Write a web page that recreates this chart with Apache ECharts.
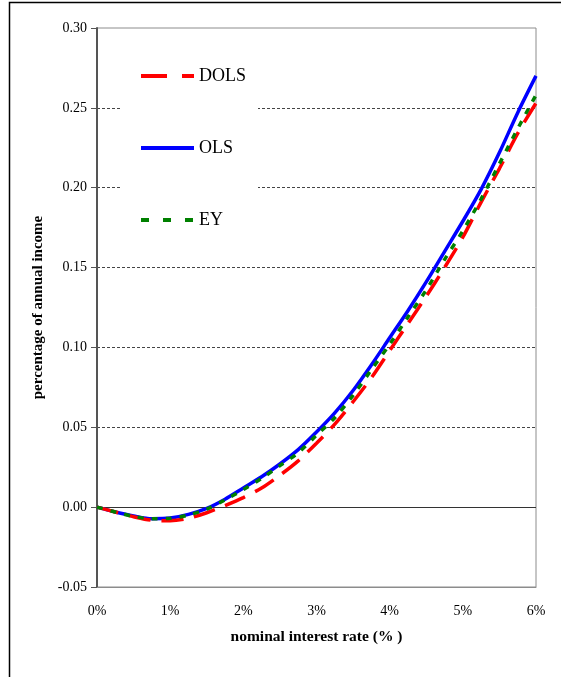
<!DOCTYPE html>
<html>
<head>
<meta charset="utf-8">
<script src="https://cdn.jsdelivr.net/npm/echarts@6/dist/echarts.min.js"></script>
<style>
html,body{margin:0;padding:0;background:#fff;}
#chart{width:561px;height:677px;}
</style>
</head>
<body>
<div id="chart"></div>
<script>
// nominal interest rate (%)
const rates = [0, 0.25, 0.5, 0.75, 1.0, 1.25, 1.5, 1.75, 2.0, 2.25, 2.5, 2.75, 3.0, 3.25, 3.5, 3.75, 4.0, 4.25, 4.5, 4.75, 5.0, 5.25, 5.5, 5.75, 6.0];
const dols = [0, -0.003, -0.006, -0.0082, -0.0085, -0.007, -0.0035, 0.001, 0.006, 0.012, 0.020, 0.029, 0.040, 0.052, 0.066, 0.081, 0.098, 0.115, 0.132, 0.150, 0.169, 0.191, 0.212, 0.234, 0.253];
const ols  = [0, -0.003, -0.0055, -0.0072, -0.0068, -0.0045, -0.0008, 0.005, 0.012, 0.019, 0.027, 0.036, 0.047, 0.059, 0.073, 0.089, 0.106, 0.123, 0.141, 0.160, 0.179, 0.199, 0.222, 0.247, 0.270];
const ey   = [0, -0.003, -0.0058, -0.0073, -0.007, -0.005, -0.0012, 0.0045, 0.011, 0.018, 0.026, 0.034, 0.045, 0.056, 0.070, 0.086, 0.102, 0.119, 0.136, 0.155, 0.173, 0.193, 0.215, 0.237, 0.258];
const seriesNames = ['DOLS', 'OLS', 'EY'];
const yTicks = { min: -0.05, max: 0.30, interval: 0.05 };
const xTicks = { min: 0, max: 6, interval: 1 };

const pairs = arr => rates.map((r, i) => [r, arr[i]]);
const font = 'Liberation Serif, Times New Roman, serif';
const hiddenSymbol = { opacity: 0, color: 'transparent', borderWidth: 0 };

const chart = echarts.init(document.getElementById('chart'), null, { renderer: 'canvas' });
chart.setOption({
  animation: false,
  backgroundColor: '#fff',
  textStyle: { fontFamily: font },
  graphic: [{
    type: 'polyline',
    shape: { points: [[9.5, 677], [9.5, 2.5], [561, 2.5]] },
    style: { stroke: '#000', lineWidth: 1.5, fill: null },
    silent: true
  }],
  grid: {
    left: 97, top: 28, right: 25, bottom: 90,
    show: true, borderColor: '#8c8c8c', borderWidth: 1, backgroundColor: 'transparent'
  },
  legend: {
    orient: 'vertical',
    left: 122, top: 50,
    padding: [17, 12, 18, 17],
    backgroundColor: '#fff',
    itemWidth: 53, itemHeight: 14, itemGap: 54,
    textStyle: { fontFamily: font, fontSize: 18, color: '#000', lineHeight: 18 },
    itemStyle: hiddenSymbol,
    data: [
      { name: 'DOLS', itemStyle: hiddenSymbol, lineStyle: { type: [26, 15], width: 4, color: '#ff0000' } },
      { name: 'OLS', itemStyle: hiddenSymbol, lineStyle: { type: 'solid', width: 4, color: '#0000ff' } },
      { name: 'EY', itemStyle: hiddenSymbol, lineStyle: { type: [8, 14], width: 4, color: '#008000' } }
    ],
    selectedMode: false
  },
  xAxis: {
    type: 'value',
    min: xTicks.min, max: xTicks.max, interval: xTicks.interval,
    name: 'nominal interest rate (% )',
    nameLocation: 'middle', nameGap: 42,
    nameTextStyle: { fontFamily: font, fontSize: 15.5, fontWeight: 'bold', color: '#000' },
    axisLine: { onZero: false, lineStyle: { color: '#8c8c8c', width: 1 } },
    axisTick: { show: false },
    splitLine: { show: false },
    axisLabel: { formatter: '{value}%', fontFamily: font, fontSize: 14, color: '#000', margin: 17 }
  },
  yAxis: {
    type: 'value',
    min: yTicks.min, max: yTicks.max, interval: yTicks.interval,
    name: 'percentage of annual income',
    nameLocation: 'middle', nameGap: 51,
    nameTextStyle: { fontFamily: font, fontSize: 15, fontWeight: 'bold', color: '#000' },
    axisLine: { show: true, lineStyle: { color: '#555', width: 2 } },
    axisTick: { show: true, length: 6, lineStyle: { color: '#555', width: 1 } },
    splitLine: { show: true, showMinLine: false, showMaxLine: false, lineStyle: { color: '#444', width: 1, type: [3, 2] } },
    axisLabel: { formatter: v => v.toFixed(2), fontFamily: font, fontSize: 14, color: '#000', margin: 10 }
  },
  series: [
    {
      name: seriesNames[0], type: 'line', data: pairs(dols), symbol: 'none', smooth: 0.3, z: 3,
      itemStyle: { color: '#ff0000' },
      lineStyle: { color: '#ff0000', width: 3.5, type: [22, 11] },
      markLine: {
        silent: true, symbol: 'none', label: { show: false },
        lineStyle: { color: '#333', width: 1, type: 'solid' },
        data: [{ yAxis: 0 }], z: 1
      }
    },
    {
      name: seriesNames[1], type: 'line', data: pairs(ols), symbol: 'none', smooth: 0.3, z: 2,
      itemStyle: { color: '#0000ff' },
      lineStyle: { color: '#0000ff', width: 3.5, type: 'solid' }
    },
    {
      name: seriesNames[2], type: 'line', data: pairs(ey), symbol: 'none', smooth: 0.3, z: 4,
      itemStyle: { color: '#008000' },
      lineStyle: { color: '#008000', width: 3.5, type: [6, 8] }
    }
  ]
});
</script>
</body>
</html>
